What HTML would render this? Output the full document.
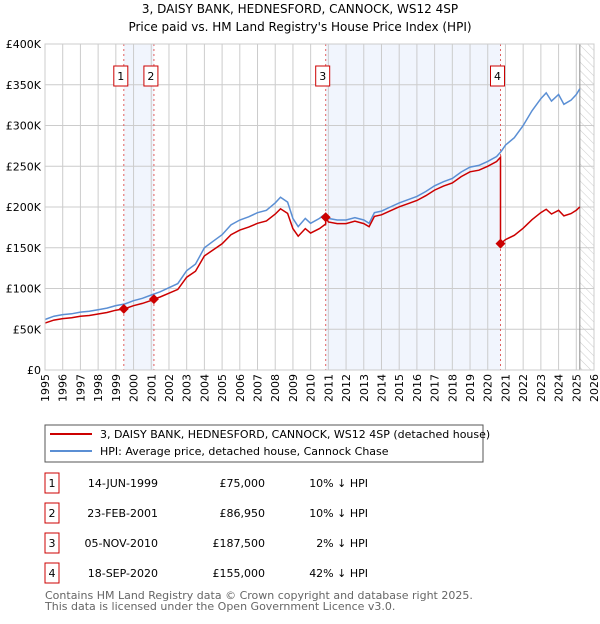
<!DOCTYPE html>
<html><head><meta charset="utf-8"><style>
body{margin:0;background:#fff;width:600px;height:620px;overflow:hidden;font-family:"DejaVu Sans","Liberation Sans",sans-serif;}
svg text{font-family:"DejaVu Sans","Liberation Sans",sans-serif;}
</style></head><body>
<svg id="c" width="600" height="620" xmlns="http://www.w3.org/2000/svg">
<defs><pattern id="hatch" width="6" height="6" patternUnits="userSpaceOnUse" patternTransform="rotate(-45)"><line x1="0" y1="0" x2="0" y2="6" stroke="#ccc" stroke-width="1"/></pattern></defs>
<text x="300" y="13" text-anchor="middle" font-size="12">3, DAISY BANK, HEDNESFORD, CANNOCK, WS12 4SP</text>
<text x="300" y="31" text-anchor="middle" font-size="12">Price paid vs. HM Land Registry's House Price Index (HPI)</text>
<g id="plot"></g>
<rect x="45" y="425" width="438" height="37" fill="#fff" stroke="#555"/>
<line x1="50" y1="434" x2="92" y2="434" stroke="#cc0000" stroke-width="2"/>
<text x="100" y="438" font-size="11">3, DAISY BANK, HEDNESFORD, CANNOCK, WS12 4SP (detached house)</text>
<line x1="50" y1="451" x2="92" y2="451" stroke="#5b8fd4" stroke-width="2"/>
<text x="100" y="455" font-size="11">HPI: Average price, detached house, Cannock Chase</text>
<g id="table" font-size="11"></g>
<text x="45" y="599" font-size="11" fill="#666">Contains HM Land Registry data © Crown copyright and database right 2025.</text>
<text x="45" y="610" font-size="11" fill="#666">This data is licensed under the Open Government Licence v3.0.</text>
</svg>
<script>
const hpiYears=[1995,1995.5,1996,1996.5,1997,1997.5,1998,1998.5,1999,1999.5,2000,2000.5,2001,2001.5,2002,2002.5,2003,2003.5,2004,2004.5,2005,2005.5,2006,2006.5,2007,2007.5,2008,2008.3,2008.7,2009,2009.3,2009.7,2010,2010.5,2010.85,2011,2011.5,2012,2012.5,2013,2013.3,2013.6,2014,2014.5,2015,2015.5,2016,2016.5,2017,2017.5,2018,2018.5,2019,2019.5,2020,2020.5,2020.75,2021,2021.5,2022,2022.5,2023,2023.3,2023.6,2024,2024.3,2024.7,2025,2025.2];
const hpiValues=[62,66,68,69,71,72,74,76,79,81,85,88,92,96,101,106,122,130,150,158,166,178,184,188,193,196,205,212,206,186,176,186,180,186,192,186,184,184,187,184,180,193,195,200,205,209,213,219,226,231,235,243,249,251,256,262,268,276,285,300,318,333,340,330,338,326,331,338,345];
const saleLabels=["1","2","3","4"];
const saleYears=[1999.45,2001.15,2010.85,2020.72];
const salePrices=[75000,86950,187500,155000];
const saleDates=["14-JUN-1999","23-FEB-2001","05-NOV-2010","18-SEP-2020"];
const salePriceText=["£75,000","£86,950","£187,500","£155,000"];
const saleHpiText=["10% ↓ HPI","10% ↓ HPI","2% ↓ HPI","42% ↓ HPI"];
const yTicks=[0,50,100,150,200,250,300,350,400];
const yTickLabels=["£0","£50K","£100K","£150K","£200K","£250K","£300K","£350K","£400K"];
const xTicks=[];for(let y=1995;y<=2026;y++)xTicks.push(y);

const X0=45,X1=594,Y0=370,Y1=44,NS="http://www.w3.org/2000/svg";
const sx=y=>X0+(y-1995)/(2026-1995)*(X1-X0);
const sy=v=>Y0-v/400*(Y0-Y1);
const g=document.getElementById('plot');
function mk(t,a,p){const e=document.createElementNS(NS,t);for(const k in a)e.setAttribute(k,a[k]);(p||g).appendChild(e);return e;}
function hpiAt(y){for(let i=1;i<hpiYears.length;i++){if(y<=hpiYears[i]){const t=(y-hpiYears[i-1])/(hpiYears[i]-hpiYears[i-1]);return hpiValues[i-1]+t*(hpiValues[i]-hpiValues[i-1]);}}return hpiValues[hpiValues.length-1];}

let el;
el=mk('rect',{x:sx(saleYears[0]),y:Y1,width:sx(saleYears[1])-sx(saleYears[0]),height:Y0-Y1,fill:'#f1f5fd'});


el=mk('rect',{x:sx(saleYears[2]),y:Y1,width:sx(saleYears[3])-sx(saleYears[2]),height:Y0-Y1,fill:'#f1f5fd'});


el=mk('rect',{x:sx(2025.2),y:Y1,width:X1-sx(2025.2),height:Y0-Y1,fill:'url(#hatch)'});


xTicks.forEach(y=>{const l=mk('line',{x1:sx(y),x2:sx(y),y1:Y1,y2:Y0,stroke:'#ccc','stroke-width':1});


const t=mk('text',{x:0,y:0,'font-size':11,'text-anchor':'end',transform:`translate(${sx(y)+4},374) rotate(-90)`});t.textContent=y;

});
yTicks.forEach((v,i)=>{const l=mk('line',{x1:X0,x2:X1,y1:sy(v),y2:sy(v),stroke:'#ccc','stroke-width':1});


const t=mk('text',{x:41,y:sy(v)+4,'font-size':11,'text-anchor':'end'});t.textContent=yTickLabels[i];

});
el=mk('line',{x1:sx(2025.2),x2:sx(2025.2),y1:Y1,y2:Y0,stroke:'#888','stroke-width':1});


saleYears.forEach((y,i)=>{const l=mk('line',{x1:sx(y),x2:sx(y),y1:Y1,y2:Y0,stroke:'#e06060','stroke-dasharray':'2,3','stroke-width':1});


const r=mk('rect',{x:sx(y)-10,y:66,width:14,height:20,fill:'#fff',stroke:'#cc0000'});


const t=mk('text',{x:sx(y)-3,y:80,'font-size':11,'text-anchor':'middle'});t.textContent=saleLabels[i];

});
let d='';hpiYears.forEach((y,i)=>{d+=(i?'L':'M')+sx(y).toFixed(1)+','+sy(hpiValues[i]).toFixed(1);});
el=mk('path',{d:d,fill:'none',stroke:'#5b8fd4','stroke-width':1.5});


function priceAt(y){let k=0;for(let i=0;i<saleYears.length;i++)if(y>=saleYears[i])k=i;const base=(y<saleYears[0])?0:k;return salePrices[base]/1000*hpiAt(y)/hpiAt(saleYears[base]);}
const pts=[];hpiYears.forEach(y=>pts.push(y));saleYears.forEach(y=>{pts.push(y-0.001);pts.push(y);});pts.sort((a,b)=>a-b);
d='';pts.forEach((y,i)=>{d+=(i?'L':'M')+sx(y).toFixed(1)+','+sy(priceAt(y)).toFixed(1);});
el=mk('path',{d:d,fill:'none',stroke:'#cc0000','stroke-width':1.5});


saleYears.forEach((y,i)=>{const c=mk('path',{d:`M${sx(y)-5},${sy(salePrices[i]/1000)}l5,-5l5,5l-5,5z`,fill:'#cc0000'});

});
el=mk('rect',{x:X0,y:Y1,width:X1-X0,height:Y0-Y1,fill:'none',stroke:'#ccc'});


const tb=document.getElementById('table');
saleLabels.forEach((s,i)=>{const yc=483+i*30;
const r=mk('rect',{x:45,y:yc-10,width:14,height:20,fill:'#fff',stroke:'#cc0000'},tb);


const cols=[[52,s,'middle'],[158,saleDates[i],'end'],[265,salePriceText[i],'end'],[368,saleHpiText[i],'end']];
const names=['table-num-','table-date-','table-price-','table-hpi-'];
cols.forEach((c,j)=>{const t=mk('text',{x:c[0],y:yc+4,'text-anchor':c[2]},tb);t.textContent=c[1];

});});
</script>
</body></html>
